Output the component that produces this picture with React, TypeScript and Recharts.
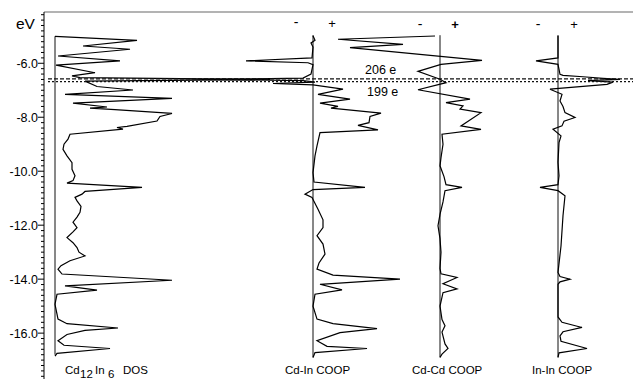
import React from 'react'
import { LineChart, Line, XAxis, YAxis, ReferenceLine } from 'recharts'

// energy (eV), value pairs
const dos: [number, number][] = [
  [-5.0, 0], [-5.15, 8.2], [-5.36, 2.8], [-5.48, 7.5], [-5.73, 0.3], [-5.91, 6.5],
  [-6.07, 0.1], [-6.35, 4.0], [-6.47, 1.7], [-6.53, 2.5], [-6.6, 21.5], [-6.66, 3.0],
  [-6.86, 4.2], [-6.99, 7.8], [-7.15, 1.0], [-7.3, 11.7], [-7.48, 1.8], [-7.62, 5.2],
  [-7.66, 3.5], [-7.72, 6.0], [-7.86, 11.7], [-7.97, 10.5], [-8.14, 10.2], [-8.34, 7.2],
  [-8.38, 6.2], [-8.44, 6.8], [-8.63, 1.5], [-8.81, 1.3], [-9.0, 0.9], [-9.19, 0.8],
  [-9.43, 1.2], [-9.68, 1.7], [-9.93, 1.7], [-10.17, 2.0], [-10.35, 1.8], [-10.44, 1.2],
  [-10.6, 8.7], [-10.75, 3.0], [-10.85, 2.7], [-10.97, 2.0], [-11.1, 2.2], [-11.3, 2.6],
  [-11.52, 2.5], [-11.7, 2.2], [-11.89, 1.8], [-12.09, 2.2], [-12.25, 1.8], [-12.46, 1.2],
  [-12.65, 1.8], [-12.83, 2.2], [-13.0, 2.4], [-13.14, 3.0], [-13.32, 1.5], [-13.5, 0.6],
  [-13.63, 0.3], [-13.81, 0.7], [-14.04, 11.7], [-14.25, 1.0], [-14.41, 4.2], [-14.56, 0.2],
  [-14.93, 0], [-15.3, 0.2], [-15.48, 0.3], [-15.65, 1.2], [-15.81, 6.3], [-15.9, 3.0],
  [-16.05, 1.2], [-16.28, 0.3], [-16.45, 0.9], [-16.57, 5.5], [-16.75, 0.2], [-16.85, 0],
]

const cdInCoop: [number, number][] = [
  [-4.98, 0], [-5.15, 0.02], [-5.25, -0.02], [-5.4, 0], [-5.8, -0.01], [-5.91, -0.67],
  [-5.98, -0.05], [-6.05, 0], [-6.4, -0.02], [-6.55, -0.1], [-6.6, -1.1], [-6.64, -0.1],
  [-6.7, 0.02], [-6.75, -0.4], [-6.8, 0], [-6.96, 0.3], [-7.15, 0.05], [-7.33, 0.37],
  [-7.48, 0.07], [-7.6, 0.25], [-7.66, 0.18], [-7.85, 0.68], [-7.97, 0.57], [-8.2, 0.56],
  [-8.3, 0.45], [-8.47, 0.65], [-8.57, 0.07], [-9.06, 0.04], [-9.43, 0.02], [-10.05, 0],
  [-10.4, 0.01], [-10.6, 0.52], [-10.68, 0], [-10.85, -0.08], [-10.97, -0.01], [-11.41, 0.05],
  [-11.8, 0.1], [-12.09, 0.1], [-12.39, 0.04], [-12.7, 0.1], [-13.07, 0.12], [-13.4, 0.06],
  [-13.63, 0.04], [-13.85, 0.2], [-14.0, 0.87], [-14.19, 0.07], [-14.4, 0.29], [-14.56, 0.02],
  [-15.0, 0], [-15.48, 0.04], [-15.65, 0.2], [-15.83, 0.64], [-15.98, 0.27], [-16.28, 0.04],
  [-16.49, 0.14], [-16.57, 0.54], [-16.72, 0.02], [-16.9, 0],
]

const cdCdCoop: [number, number][] = [
  [-4.99, -0.05], [-5.11, -1.02], [-5.3, -0.37], [-5.42, -0.9], [-5.89, 0.42], [-6.04, 0.01],
  [-6.3, -0.22], [-6.59, 0], [-6.72, 0.06], [-6.98, -0.22], [-7.33, 0.3], [-7.46, 0.06],
  [-7.58, 0.23], [-7.7, 0.2], [-7.83, 0.41], [-8.32, 0.21], [-8.45, 0.41], [-8.63, 0.02],
  [-9.0, 0.03], [-9.5, 0.01], [-9.8, 0], [-10.2, 0.04], [-10.5, 0.06], [-10.6, 0.22],
  [-10.72, 0.05], [-11.14, 0.03], [-11.6, 0], [-12.02, -0.02], [-12.5, 0], [-13.0, 0.01],
  [-13.6, 0], [-13.8, 0.01], [-13.94, 0.17], [-14.17, 0.03], [-14.36, 0.17], [-14.5, 0.03],
  [-15.0, 0], [-15.5, 0.02], [-15.73, 0.05], [-15.96, 0.02], [-16.4, 0.05], [-16.57, 0.08],
  [-16.78, 0.02], [-16.9, 0],
]

const inInCoop: [number, number][] = [
  [-4.98, 0], [-5.8, 0], [-5.91, -0.22], [-6.04, 0], [-6.41, 0.02], [-6.45, 0.05],
  [-6.5, 0.25], [-6.56, 0.45], [-6.6, 0.62], [-6.64, 0.3], [-6.7, 0.55], [-6.78, 0.49],
  [-6.96, -0.08], [-7.15, 0.04], [-7.4, 0.02], [-7.6, 0.05], [-7.83, 0.07], [-8.01, 0.17],
  [-8.15, 0.06], [-8.32, 0.04], [-8.44, -0.05], [-8.69, 0.03], [-8.94, 0.01], [-9.67, 0],
  [-10.17, 0.01], [-10.5, 0], [-10.6, -0.18], [-10.72, 0], [-10.91, 0.07], [-11.65, 0.05],
  [-12.77, 0.03], [-13.75, 0], [-13.9, 0.02], [-14.0, 0.12], [-14.1, 0.02], [-14.19, 0],
  [-15.4, 0], [-15.6, 0.04], [-15.79, 0.24], [-15.95, 0.05], [-16.1, 0.02], [-16.3, 0.03],
  [-16.57, 0.29], [-16.73, 0.01], [-16.9, 0],
]

// vertical zero line of each panel: top and bottom energy
const dosBaseline = [-5.0, -16.8]
const coopBaseline = [-4.96, -16.9]

const fermiLevels = [-6.575, -6.68] // 206 e, 199 e
const majorTicks = [-6, -8, -10, -12, -14, -16]
const minorTicks: number[] = []
for (let t = -42; t >= -176; t -= 2) minorTicks.push(t / 10)

const toRows = (pairs: [number, number][]) => pairs.map(([e, v]) => ({ e, v }))
const baseRows = (span: number[]) => span.map((e) => ({ e, v: 0 }))

const font = '"Liberation Sans", Arial, sans-serif'

function EnergyTick(props: any) {
  const { x, y, payload } = props
  const v = Math.round(payload.value * 10) / 10
  const major = majorTicks.includes(v)
  return (
    <g>
      <line x1={x - (major ? 6 : 3)} x2={x} y1={y} y2={y} stroke="#000" strokeWidth={1} />
      {major && (
        <text x={x - 6} y={y + 4.5} textAnchor="end" fontSize={12.5} fontFamily={font} fill="#000">
          {v.toFixed(1)}
        </text>
      )}
    </g>
  )
}

const panels = [
  { id: 'dos', rows: toRows(dos), base: dosBaseline, domain: [-1.1, 57.8] },
  { id: 'cdin', rows: toRows(cdInCoop), base: coopBaseline, domain: [-2.69, 3.2] },
  { id: 'cdcd', rows: toRows(cdCdCoop), base: coopBaseline, domain: [-3.96, 1.93] },
  { id: 'inin', rows: toRows(inInCoop), base: coopBaseline, domain: [-5.14, 0.75] },
]

export default function App() {
  const txt = { fontFamily: font, fill: '#000' }
  return (
    <div style={{ position: 'relative', width: 633, height: 381 }}>
      <style>{'body{margin:0}'}</style>
      <LineChart width={633} height={381} margin={{ top: 12, right: 0, bottom: 2, left: 0 }}>
        {panels.map((p) => (
          <XAxis
            key={p.id}
            xAxisId={p.id}
            dataKey="v"
            type="number"
            domain={p.domain}
            allowDataOverflow
            hide
          />
        ))}
        <YAxis
          yAxisId="e"
          type="number"
          domain={[-17.7, -4.1]}
          allowDataOverflow
          width={44}
          ticks={minorTicks}
          interval={0}
          tick={<EnergyTick />}
          tickLine={false}
          tickSize={0}
          tickMargin={0}
          axisLine={{ stroke: '#000', strokeWidth: 1 }}
        />
        <ReferenceLine xAxisId="dos" yAxisId="e" y={-4.1} stroke="#9a9a9a" strokeWidth={1.5} />
        {panels.map((p) => (
          <Line
            key={p.id + '-base'}
            data={baseRows(p.base)}
            xAxisId={p.id}
            yAxisId="e"
            dataKey="e"
            stroke="#111"
            strokeWidth={1}
            dot={false}
            isAnimationActive={false}
          />
        ))}
        {panels.map((p) => (
          <Line
            key={p.id}
            data={p.rows}
            xAxisId={p.id}
            yAxisId="e"
            dataKey="e"
            type="linear"
            stroke="#000"
            strokeWidth={1.2}
            dot={false}
            isAnimationActive={false}
          />
        ))}
        <ReferenceLine
          xAxisId="dos"
          yAxisId="e"
          segment={[{ x: -0.7, y: fermiLevels[0] }, { x: 57.8, y: fermiLevels[0] }]}
          stroke="#111"
          strokeWidth={1.3}
          strokeDasharray="4 2"
        />
        <ReferenceLine
          xAxisId="dos"
          yAxisId="e"
          segment={[{ x: -0.7, y: fermiLevels[1] }, { x: 57.8, y: fermiLevels[1] }]}
          stroke="#111"
          strokeWidth={1.3}
          strokeDasharray="2 2"
        />
      </LineChart>
      <svg width={633} height={381} style={{ position: 'absolute', left: 0, top: 0, pointerEvents: 'none' }}>
        <text x={16} y={28.5} fontSize={15.5} {...txt}>eV</text>
        <text x={365} y={74} fontSize={12.5} {...txt}>206 e</text>
        <text x={367} y={96} fontSize={12.5} {...txt}>199 e</text>
        <text x={296} y={27} fontSize={14} textAnchor="middle" {...txt}>-</text>
        <text x={332} y={27.5} fontSize={13} textAnchor="middle" {...txt}>+</text>
        <text x={420} y={29} fontSize={14} textAnchor="middle" {...txt}>-</text>
        <text x={455} y={29} fontSize={13} fontWeight="bold" textAnchor="middle" {...txt}>+</text>
        <text x={538} y={29} fontSize={14} textAnchor="middle" {...txt}>-</text>
        <text x={574} y={28.5} fontSize={13} textAnchor="middle" {...txt}>+</text>
        <text x={65} y={374} fontSize={11.5} {...txt}>Cd</text>
        <text x={80} y={378} fontSize={11.5} {...txt}>12</text>
        <text x={95} y={374} fontSize={11.5} {...txt}>In</text>
        <text x={108} y={378} fontSize={11.5} {...txt}>6</text>
        <text x={123} y={374} fontSize={11.5} {...txt}>DOS</text>
        <text x={285} y={374} fontSize={11.5} {...txt}>Cd-In COOP</text>
        <text x={412} y={374} fontSize={11.5} {...txt}>Cd-Cd COOP</text>
        <text x={532} y={374} fontSize={11.5} {...txt}>In-In COOP</text>
      </svg>
    </div>
  )
}
